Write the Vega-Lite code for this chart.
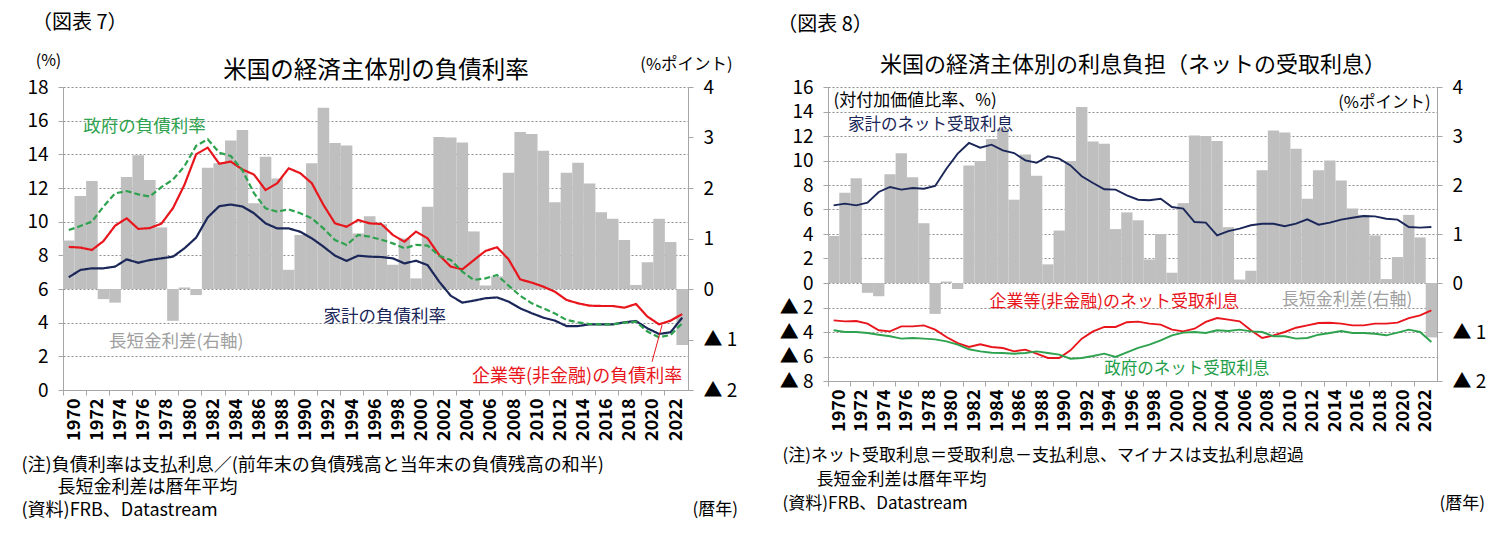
{
  "$schema": "https://vega.github.io/schema/vega-lite/v6.json",
  "padding": {"left": 21, "top": 13, "right": 0, "bottom": 0},
  "background": "white",
  "config": {
    "font": "Noto Sans CJK JP",
    "view": {"stroke": null},
    "axis": {"domainColor": "#a6a6a6", "tickColor": "#a6a6a6", "labelColor": "#000000", "titleColor": "#000000", "titleFontWeight": "normal", "labelFontSize": 19, "tickSize": 5, "labelPadding": 10, "labelOverlap": false}
  },
  "bounds": "flush",
  "spacing": 140,
  "data": {"values": [
    {"year":1970,"spread":0.96,"hh1":6.7,"corp1":8.5,"gov1":9.5,"hh2":6.34,"corp2":-3.05,"gov2":-3.86},
    {"year":1971,"spread":1.84,"hh1":7.13,"corp1":8.46,"gov1":9.74,"hh2":6.48,"corp2":-3.13,"gov2":-4.0},
    {"year":1972,"spread":2.14,"hh1":7.23,"corp1":8.32,"gov1":10.0,"hh2":6.34,"corp2":-3.1,"gov2":-4.0},
    {"year":1973,"spread":-0.2,"hh1":7.23,"corp1":8.85,"gov1":10.9,"hh2":6.56,"corp2":-3.32,"gov2":-4.08},
    {"year":1974,"spread":-0.27,"hh1":7.33,"corp1":9.76,"gov1":11.68,"hh2":7.43,"corp2":-3.86,"gov2":-4.22},
    {"year":1975,"spread":2.22,"hh1":7.76,"corp1":10.2,"gov1":11.82,"hh2":7.84,"corp2":-3.95,"gov2":-4.35},
    {"year":1976,"spread":2.65,"hh1":7.56,"corp1":9.57,"gov1":11.62,"hh2":7.62,"corp2":-3.54,"gov2":-4.54},
    {"year":1977,"spread":2.16,"hh1":7.72,"corp1":9.62,"gov1":11.49,"hh2":7.76,"corp2":-3.54,"gov2":-4.49},
    {"year":1978,"spread":1.22,"hh1":7.82,"corp1":9.88,"gov1":12.05,"hh2":7.7,"corp2":-3.46,"gov2":-4.54},
    {"year":1979,"spread":-0.63,"hh1":7.92,"corp1":10.8,"gov1":12.5,"hh2":7.92,"corp2":-3.81,"gov2":-4.6},
    {"year":1980,"spread":0.03,"hh1":8.42,"corp1":12.2,"gov1":13.3,"hh2":9.33,"corp2":-4.41,"gov2":-4.76},
    {"year":1981,"spread":-0.12,"hh1":9.05,"corp1":14.0,"gov1":14.5,"hh2":10.56,"corp2":-4.9,"gov2":-5.03},
    {"year":1982,"spread":2.4,"hh1":10.25,"corp1":14.4,"gov1":14.9,"hh2":11.43,"corp2":-5.22,"gov2":-5.41},
    {"year":1983,"spread":2.49,"hh1":10.92,"corp1":13.44,"gov1":14.1,"hh2":11.05,"corp2":-5.0,"gov2":-5.58},
    {"year":1984,"spread":2.94,"hh1":11.02,"corp1":13.57,"gov1":13.9,"hh2":11.29,"corp2":-5.22,"gov2":-5.69},
    {"year":1985,"spread":3.15,"hh1":10.9,"corp1":13.1,"gov1":13.05,"hh2":10.83,"corp2":-5.31,"gov2":-5.71},
    {"year":1986,"spread":1.7,"hh1":10.5,"corp1":12.8,"gov1":11.69,"hh2":10.61,"corp2":-5.58,"gov2":-5.77},
    {"year":1987,"spread":2.62,"hh1":9.9,"corp1":11.88,"gov1":10.79,"hh2":10.01,"corp2":-5.44,"gov2":-5.71},
    {"year":1988,"spread":2.19,"hh1":9.6,"corp1":12.28,"gov1":10.6,"hh2":9.82,"corp2":-5.77,"gov2":-5.58},
    {"year":1989,"spread":0.38,"hh1":9.6,"corp1":13.17,"gov1":10.73,"hh2":10.34,"corp2":-6.12,"gov2":-5.71},
    {"year":1990,"spread":1.07,"hh1":9.4,"corp1":12.88,"gov1":10.5,"hh2":10.15,"corp2":-6.12,"gov2":-5.85},
    {"year":1991,"spread":2.49,"hh1":9.01,"corp1":12.28,"gov1":10.2,"hh2":9.6,"corp2":-5.5,"gov2":-6.18},
    {"year":1992,"spread":3.59,"hh1":8.52,"corp1":11.0,"gov1":9.6,"hh2":8.71,"corp2":-4.54,"gov2":-6.12},
    {"year":1993,"spread":2.89,"hh1":7.98,"corp1":9.9,"gov1":8.91,"hh2":8.16,"corp2":-3.95,"gov2":-5.96},
    {"year":1994,"spread":2.84,"hh1":7.67,"corp1":9.7,"gov1":8.62,"hh2":7.65,"corp2":-3.59,"gov2":-5.77},
    {"year":1995,"spread":1.1,"hh1":7.98,"corp1":10.1,"gov1":9.21,"hh2":7.62,"corp2":-3.59,"gov2":-6.04},
    {"year":1996,"spread":1.44,"hh1":7.92,"corp1":9.9,"gov1":9.11,"hh2":7.15,"corp2":-3.2,"gov2":-5.66},
    {"year":1997,"spread":1.28,"hh1":7.9,"corp1":9.86,"gov1":8.93,"hh2":6.8,"corp2":-3.15,"gov2":-5.3},
    {"year":1998,"spread":0.48,"hh1":7.82,"corp1":9.21,"gov1":8.71,"hh2":6.75,"corp2":-3.32,"gov2":-5.03},
    {"year":1999,"spread":1.0,"hh1":7.52,"corp1":8.81,"gov1":8.42,"hh2":6.88,"corp2":-3.4,"gov2":-4.68},
    {"year":2000,"spread":0.21,"hh1":7.68,"corp1":9.41,"gov1":8.62,"hh2":6.2,"corp2":-3.81,"gov2":-4.27},
    {"year":2001,"spread":1.63,"hh1":7.42,"corp1":9.01,"gov1":8.58,"hh2":6.07,"corp2":-3.95,"gov2":-4.05},
    {"year":2002,"spread":3.01,"hh1":6.44,"corp1":8.02,"gov1":7.98,"hh2":4.98,"corp2":-3.73,"gov2":-4.0},
    {"year":2003,"spread":3.0,"hh1":5.6,"corp1":7.33,"gov1":7.72,"hh2":4.93,"corp2":-3.18,"gov2":-4.08},
    {"year":2004,"spread":2.9,"hh1":5.19,"corp1":7.17,"gov1":7.03,"hh2":3.89,"corp2":-2.86,"gov2":-3.86},
    {"year":2005,"spread":1.14,"hh1":5.31,"corp1":7.72,"gov1":6.54,"hh2":4.24,"corp2":-2.99,"gov2":-3.92},
    {"year":2006,"spread":0.07,"hh1":5.45,"corp1":8.26,"gov1":6.63,"hh2":4.44,"corp2":-3.13,"gov2":-3.81},
    {"year":2007,"spread":0.25,"hh1":5.5,"corp1":8.48,"gov1":6.83,"hh2":4.71,"corp2":-3.86,"gov2":-3.95},
    {"year":2008,"spread":2.3,"hh1":5.25,"corp1":7.76,"gov1":6.2,"hh2":4.84,"corp2":-4.49,"gov2":-4.0},
    {"year":2009,"spread":3.11,"hh1":4.85,"corp1":6.57,"gov1":5.6,"hh2":4.84,"corp2":-4.27,"gov2":-4.35},
    {"year":2010,"spread":3.07,"hh1":4.56,"corp1":6.38,"gov1":5.15,"hh2":4.63,"corp2":-4.0,"gov2":-4.35},
    {"year":2011,"spread":2.74,"hh1":4.3,"corp1":6.14,"gov1":4.85,"hh2":4.84,"corp2":-3.65,"gov2":-4.54},
    {"year":2012,"spread":1.72,"hh1":4.12,"corp1":5.84,"gov1":4.55,"hh2":5.2,"corp2":-3.46,"gov2":-4.49},
    {"year":2013,"spread":2.3,"hh1":3.8,"corp1":5.35,"gov1":4.16,"hh2":4.76,"corp2":-3.27,"gov2":-4.22},
    {"year":2014,"spread":2.5,"hh1":3.8,"corp1":5.15,"gov1":4.02,"hh2":4.93,"corp2":-3.24,"gov2":-4.08},
    {"year":2015,"spread":2.09,"hh1":3.9,"corp1":5.01,"gov1":3.92,"hh2":5.17,"corp2":-3.32,"gov2":-3.92},
    {"year":2016,"spread":1.52,"hh1":3.9,"corp1":4.99,"gov1":3.9,"hh2":5.33,"corp2":-3.46,"gov2":-4.08},
    {"year":2017,"spread":1.39,"hh1":3.9,"corp1":4.99,"gov1":3.9,"hh2":5.47,"corp2":-3.46,"gov2":-4.08},
    {"year":2018,"spread":0.97,"hh1":4.02,"corp1":4.89,"gov1":4.0,"hh2":5.44,"corp2":-3.32,"gov2":-4.14},
    {"year":2019,"spread":0.08,"hh1":4.1,"corp1":5.11,"gov1":4.06,"hh2":5.25,"corp2":-3.32,"gov2":-4.27},
    {"year":2020,"spread":0.53,"hh1":3.66,"corp1":4.36,"gov1":3.47,"hh2":5.17,"corp2":-3.24,"gov2":-4.05},
    {"year":2021,"spread":1.39,"hh1":3.33,"corp1":3.9,"gov1":3.13,"hh2":4.57,"corp2":-2.86,"gov2":-3.81},
    {"year":2022,"spread":0.93,"hh1":3.43,"corp1":4.12,"gov1":3.27,"hh2":4.52,"corp2":-2.64,"gov2":-4.0},
    {"year":2023,"spread":-1.11,"hh1":4.3,"corp1":4.51,"gov1":3.96,"hh2":4.57,"corp2":-2.23,"gov2":-4.82}
  ]},
  "hconcat": [
    {
      "width": 625,
      "height": 303,
      "title": {"text": "（図表 7）", "anchor": "start", "frame": "bounds", "fontSize": 20, "fontWeight": "normal", "offset": 19, "dx": 11, "color": "#000000"},
      "layer": [
        {
          "mark": {"type": "bar", "color": "#bfbfbf"},
          "encoding": {
            "x": {"field": "year", "type": "ordinal", "scale": {"paddingInner": 0, "paddingOuter": 0},
              "axis": {"orient": "bottom", "values": [1970,1972,1974,1976,1978,1980,1982,1984,1986,1988,1990,1992,1994,1996,1998,2000,2002,2004,2006,2008,2010,2012,2014,2016,2018,2020,2022],
                "labelAngle": -90, "bandPosition": 0, "labelOffset": 6, "labelFontSize": 18, "labelFontWeight": 600, "labelPadding": 3, "grid": false, "labelOverlap": false,
                "title": ["(注)負債利率は支払利息／(前年末の負債残高と当年末の負債残高の和半)", "\u200b\u3000\u3000長短金利差は暦年平均", "(資料)FRB、Datastream"],
                "titleAnchor": "start", "titleAlign": "left", "titleBaseline": "top", "titleX": -42, "titleY": 66, "titleFontSize": 18, "titleLineHeight": 22.5}},
            "y": {"field": "spread", "type": "quantitative", "scale": {"domain": [-2, 4], "nice": false},
              "axis": {"orient": "right", "values": [-2,-1,0,1,2,3,4], "grid": false, "labelOverlap": false,
                "labelExpr": "datum.value < 0 ? '▲ ' + abs(datum.value) : datum.label",
                "title": "(%ポイント)", "titleAngle": 0, "titleAlign": "center", "titleBaseline": "middle", "titleX": -2, "titleY": -23, "titleFontSize": 16.5}}
          }
        },
        {
          "layer": [
            {
              "transform": [{"fold": ["hh1", "corp1", "gov1"], "as": ["series", "value"]}],
              "mark": {"type": "line", "strokeWidth": 2.2},
              "encoding": {
                "x": {"field": "year", "type": "ordinal",
                  "axis": {"orient": "top", "labels": false, "ticks": false, "domain": false, "grid": false,
                    "title": "米国の経済主体別の負債利率", "titleFontSize": 23.5, "titleFontWeight": "normal", "titlePadding": 5}},
                "y": {"field": "value", "type": "quantitative", "scale": {"domain": [0, 18], "nice": false},
                  "axis": {"orient": "left", "values": [0,2,4,6,8,10,12,14,16,18], "tickCount": 10, "labelOverlap": false, "grid": true, "gridColor": "#8f8f8f", "gridDash": [2, 2],
                    "title": "(%)", "titleAngle": 0, "titleAlign": "center", "titleBaseline": "middle", "titleX": -15, "titleY": -27, "titleFontSize": 16}},
                "color": {"field": "series", "type": "nominal", "scale": {"domain": ["hh1", "corp1", "gov1"], "range": ["#1b2759", "#e8161c", "#2ea24e"]}, "legend": null},
                "strokeDash": {"field": "series", "type": "nominal", "scale": {"domain": ["hh1", "corp1", "gov1"], "range": [[1, 0], [1, 0], [6, 3]]}, "legend": null}
              }
            },
            {
              "data": {"values": [{}]},
              "mark": {"type": "text", "text": "政府の負債利率", "align": "left", "baseline": "middle", "fontSize": 17.5, "color": "#2ea24e", "dx": 3},
              "encoding": {"x": {"datum": 1971, "type": "ordinal"}, "y": {"datum": 15.65, "type": "quantitative"}}
            },
            {
              "data": {"values": [{}]},
              "mark": {"type": "text", "text": "家計の負債利率", "align": "left", "baseline": "middle", "fontSize": 17.5, "color": "#1b2759", "dx": 0},
              "encoding": {"x": {"datum": 1992, "type": "ordinal"}, "y": {"datum": 4.36, "type": "quantitative"}}
            },
            {
              "data": {"values": [{}]},
              "mark": {"type": "text", "text": "長短金利差(右軸)", "align": "left", "baseline": "middle", "fontSize": 17.5, "color": "#a0a0a0", "dx": -6},
              "encoding": {"x": {"datum": 1974, "type": "ordinal"}, "y": {"datum": 2.87, "type": "quantitative"}}
            },
            {
              "data": {"values": [{}]},
              "mark": {"type": "text", "text": "企業等(非金融)の負債利率", "align": "right", "baseline": "middle", "fontSize": 18, "color": "#e8161c", "dx": 0},
              "encoding": {"x": {"datum": 2023, "type": "ordinal"}, "y": {"datum": 0.79, "type": "quantitative"}}
            },
            {
              "data": {"values": [{}]},
              "mark": {"type": "rule", "color": "#e8161c", "strokeWidth": 1, "xOffset": -7, "x2Offset": 3},
              "encoding": {"x": {"datum": 2021, "type": "ordinal"}, "x2": {"datum": 2021}, "y": {"datum": 1.68, "type": "quantitative"}, "y2": {"datum": 3.86}}
            },
            {
              "data": {"values": [{}]},
              "mark": {"type": "text", "text": "(暦年)", "align": "center", "baseline": "middle", "fontSize": 17, "color": "#000000", "dx": 33},
              "encoding": {"x": {"datum": 2023, "type": "ordinal"}, "y": {"datum": -7.13, "type": "quantitative"}}
            }
          ]
        }
      ],
      "resolve": {"scale": {"y": "independent"}, "axis": {"x": "independent"}}
    },
    {
      "width": 609,
      "height": 294,
      "title": {"text": "（図表 8）", "anchor": "start", "frame": "bounds", "fontSize": 20, "fontWeight": "normal", "offset": 18, "dx": -2, "color": "#000000"},
      "layer": [
        {
          "mark": {"type": "bar", "color": "#bfbfbf"},
          "encoding": {
            "x": {"field": "year", "type": "ordinal", "scale": {"paddingInner": 0, "paddingOuter": 0},
              "axis": {"orient": "bottom", "values": [1970,1972,1974,1976,1978,1980,1982,1984,1986,1988,1990,1992,1994,1996,1998,2000,2002,2004,2006,2008,2010,2012,2014,2016,2018,2020,2022],
                "labelAngle": -90, "bandPosition": 0, "labelOffset": 6, "labelFontSize": 18, "labelFontWeight": 600, "labelPadding": 3, "grid": false, "labelOverlap": false,
                "title": ["(注)ネット受取利息＝受取利息－支払利息、マイナスは支払利息超過", "\u200b\u3000\u3000長短金利差は暦年平均", "(資料)FRB、Datastream"],
                "titleAnchor": "start", "titleAlign": "left", "titleBaseline": "top", "titleX": -46, "titleY": 66, "titleFontSize": 17, "titleLineHeight": 24}},
            "y": {"field": "spread", "type": "quantitative", "scale": {"domain": [-2, 4], "nice": false},
              "axis": {"orient": "right", "values": [-2,-1,0,1,2,3,4], "grid": false, "labelOverlap": false,
                "labelExpr": "datum.value < 0 ? '▲ ' + abs(datum.value) : datum.label",
                "title": "(%ポイント)", "titleAngle": 0, "titleAlign": "right", "titleBaseline": "middle", "titleX": -7, "titleY": 15, "titleFontSize": 16.5}}
          }
        },
        {
          "layer": [
            {
              "transform": [{"fold": ["hh2", "corp2", "gov2"], "as": ["series", "value"]}],
              "mark": {"type": "line", "strokeWidth": 1.9},
              "encoding": {
                "x": {"field": "year", "type": "ordinal",
                  "axis": {"orient": "top", "labels": false, "ticks": false, "domain": false, "grid": false,
                    "title": "米国の経済主体別の利息負担（ネットの受取利息）", "titleFontSize": 22, "titleFontWeight": "normal", "titlePadding": 11}},
                "y": {"field": "value", "type": "quantitative", "scale": {"domain": [-8, 16], "nice": false},
                  "axis": {"orient": "left", "values": [-8,-6,-4,-2,0,2,4,6,8,10,12,14,16], "tickCount": 13, "labelOverlap": false, "grid": true, "gridColor": "#8f8f8f", "gridDash": [2, 2],
                    "labelExpr": "datum.value < 0 ? '▲ ' + abs(datum.value) : datum.label",
                    "title": "(対付加価値比率、%)", "titleAngle": 0, "titleAlign": "left", "titleBaseline": "middle", "titleX": 5, "titleY": 13, "titleFontSize": 17}},
                "color": {"field": "series", "type": "nominal", "scale": {"domain": ["hh2", "corp2", "gov2"], "range": ["#1b2759", "#e8161c", "#1f9e4a"]}, "legend": null}
              }
            },
            {
              "data": {"values": [{}]},
              "mark": {"type": "text", "text": "家計のネット受取利息", "align": "left", "baseline": "middle", "fontSize": 16.5, "color": "#1b2759", "dx": 3},
              "encoding": {"x": {"datum": 1971, "type": "ordinal"}, "y": {"datum": 12.92, "type": "quantitative"}}
            },
            {
              "data": {"values": [{}]},
              "mark": {"type": "text", "text": "企業等(非金融)のネット受取利息", "align": "left", "baseline": "middle", "fontSize": 17, "color": "#e8161c", "dx": -2},
              "encoding": {"x": {"datum": 1984, "type": "ordinal"}, "y": {"datum": -1.55, "type": "quantitative"}}
            },
            {
              "data": {"values": [{}]},
              "mark": {"type": "text", "text": "長短金利差(右軸)", "align": "left", "baseline": "middle", "fontSize": 17, "color": "#a0a0a0", "dx": -3},
              "encoding": {"x": {"datum": 2010, "type": "ordinal"}, "y": {"datum": -1.41, "type": "quantitative"}}
            },
            {
              "data": {"values": [{}]},
              "mark": {"type": "text", "text": "政府のネット受取利息", "align": "left", "baseline": "middle", "fontSize": 16.5, "color": "#1f9e4a", "dx": 0},
              "encoding": {"x": {"datum": 1994, "type": "ordinal"}, "y": {"datum": -7.04, "type": "quantitative"}}
            },
            {
              "data": {"values": [{}]},
              "mark": {"type": "text", "text": "(暦年)", "align": "center", "baseline": "middle", "fontSize": 17, "color": "#000000", "dx": 31},
              "encoding": {"x": {"datum": 2023, "type": "ordinal"}, "y": {"datum": -18.04, "type": "quantitative"}}
            }
          ]
        }
      ],
      "resolve": {"scale": {"y": "independent"}, "axis": {"x": "independent"}}
    }
  ]
}
